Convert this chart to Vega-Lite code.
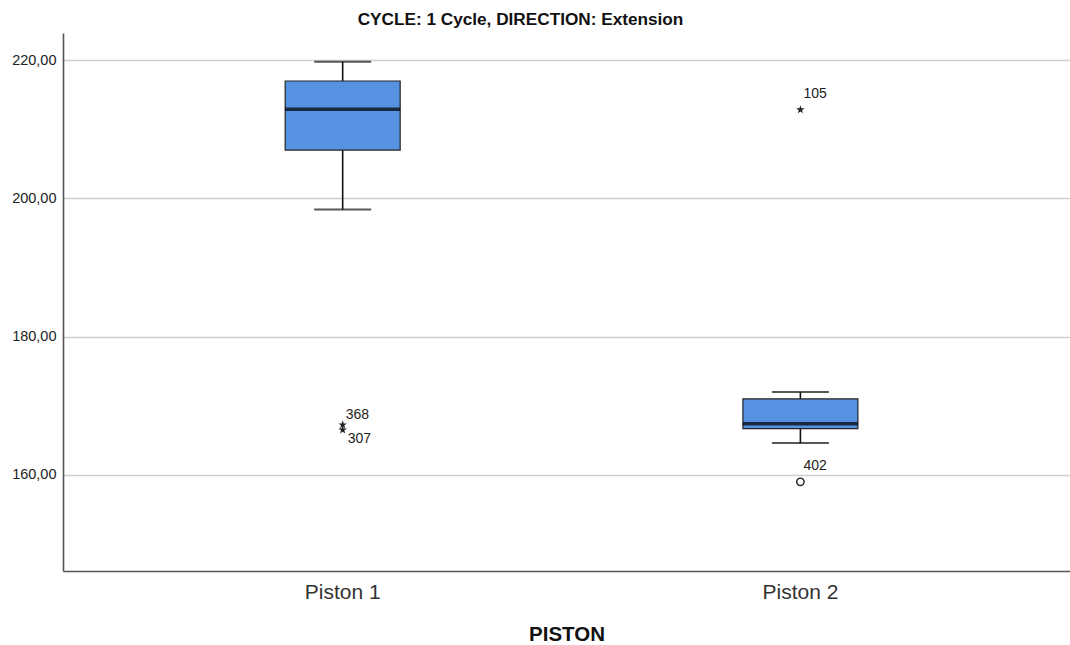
{
  "$schema": "https://vega.github.io/schema/vega-lite/v6.json",
  "autosize": {"type": "none"},
  "width": 1007,
  "height": 538,
  "padding": {"left": 63, "top": 33, "right": 0, "bottom": 74},
  "background": "white",
  "title": {
    "text": "CYCLE: 1 Cycle, DIRECTION: Extension",
    "font": "Liberation Sans",
    "fontSize": 17.2,
    "fontWeight": "bold",
    "color": "#111111",
    "anchor": "middle",
    "frame": "group",
    "dx": -46,
    "offset": 4.5
  },
  "config": {
    "view": {"stroke": null},
    "font": "Liberation Sans"
  },
  "datasets": {
    "summary": [
      {"piston": "Piston 1", "lower": 198.4, "q1": 207.0, "median": 212.9, "q3": 217.0, "upper": 219.8},
      {"piston": "Piston 2", "lower": 164.6, "q1": 166.7, "median": 167.4, "q3": 171.0, "upper": 172.0}
    ],
    "outliers": [
      {"piston": "Piston 1", "case": "368", "value": 167.25, "kind": "extreme"},
      {"piston": "Piston 1", "case": "307", "value": 166.5, "kind": "extreme"},
      {"piston": "Piston 2", "case": "105", "value": 212.85, "kind": "extreme"},
      {"piston": "Piston 2", "case": "402", "value": 159.0, "kind": "outlier"}
    ]
  },
  "encoding": {
    "x": {
      "field": "piston",
      "type": "nominal",
      "scale": {"domain": ["Piston 1", "Piston 2"], "paddingInner": 0, "paddingOuter": 0.1, "align": 0.555},
      "axis": {
        "title": "PISTON",
        "titleFont": "Liberation Sans",
        "titleFontSize": 20.5,
        "titleFontWeight": "bold",
        "titleColor": "#111111",
        "titlePadding": 22,
        "labelFont": "Liberation Sans",
        "labelFontSize": 21,
        "labelColor": "#333333",
        "labelAngle": 0,
        "labelPadding": 10,
        "ticks": false,
        "domainColor": "#555555",
        "domainWidth": 1.6,
        "grid": false
      }
    }
  },
  "layer": [
    {
      "data": {"name": "summary"},
      "mark": {"type": "rule", "color": "#111111", "strokeWidth": 1.6},
      "encoding": {
        "y": {
          "field": "lower",
          "type": "quantitative",
          "scale": {"domain": [146.09, 223.95], "nice": false, "zero": false},
          "axis": {
            "title": null,
            "values": [160, 180, 200, 220],
            "labelExpr": "replace(format(datum.value, '.2f'), '.', ',')",
            "labelFont": "Liberation Sans",
            "labelFontSize": 14.5,
            "labelColor": "#222222",
            "labelPadding": 7,
            "ticks": false,
            "domainColor": "#555555",
            "domainWidth": 1.6,
            "grid": true,
            "gridColor": "#cfcfcf",
            "gridWidth": 1.5
          }
        },
        "y2": {"field": "upper"}
      }
    },
    {
      "data": {"name": "summary"},
      "mark": {"type": "tick", "color": "#111111", "size": 57, "thickness": 2},
      "encoding": {"y": {"field": "lower", "type": "quantitative"}}
    },
    {
      "data": {"name": "summary"},
      "mark": {"type": "tick", "color": "#111111", "size": 57, "thickness": 2},
      "encoding": {"y": {"field": "upper", "type": "quantitative"}}
    },
    {
      "data": {"name": "summary"},
      "mark": {"type": "bar", "width": 115, "fill": "#5592e2", "stroke": "#222222", "strokeWidth": 1.2},
      "encoding": {
        "y": {"field": "q1", "type": "quantitative"},
        "y2": {"field": "q3"}
      }
    },
    {
      "data": {"name": "summary"},
      "mark": {"type": "tick", "color": "#000000", "size": 115, "thickness": 3.5},
      "encoding": {"y": {"field": "median", "type": "quantitative"}}
    },
    {
      "data": {"name": "outliers"},
      "transform": [{"filter": "datum.kind == 'extreme'"}],
      "mark": {
        "type": "point",
        "shape": "M0,-1L0.2245,-0.309L0.951,-0.309L0.363,0.118L0.588,0.809L0,0.382L-0.588,0.809L-0.363,0.118L-0.951,-0.309L-0.2245,-0.309Z",
        "filled": true,
        "color": "#222222",
        "size": 80,
        "opacity": 1
      },
      "encoding": {"y": {"field": "value", "type": "quantitative"}}
    },
    {
      "data": {"name": "outliers"},
      "transform": [{"filter": "datum.kind == 'outlier'"}],
      "mark": {"type": "point", "shape": "circle", "filled": false, "color": "#222222", "strokeWidth": 1.4, "size": 55, "opacity": 1},
      "encoding": {"y": {"field": "value", "type": "quantitative"}}
    },
    {
      "data": {"name": "outliers"},
      "transform": [{"filter": "datum.case == '105' || datum.case == '402'"}],
      "mark": {"type": "text", "align": "left", "baseline": "middle", "dx": 3, "dy": -16, "fontSize": 14, "font": "Liberation Sans", "color": "#222222"},
      "encoding": {"y": {"field": "value", "type": "quantitative"}, "text": {"field": "case"}}
    },
    {
      "data": {"name": "outliers"},
      "transform": [{"filter": "datum.case == '368'"}],
      "mark": {"type": "text", "align": "left", "baseline": "middle", "dx": 3, "dy": -10, "fontSize": 14, "font": "Liberation Sans", "color": "#222222"},
      "encoding": {"y": {"field": "value", "type": "quantitative"}, "text": {"field": "case"}}
    },
    {
      "data": {"name": "outliers"},
      "transform": [{"filter": "datum.case == '307'"}],
      "mark": {"type": "text", "align": "left", "baseline": "middle", "dx": 5, "dy": 9, "fontSize": 14, "font": "Liberation Sans", "color": "#222222"},
      "encoding": {"y": {"field": "value", "type": "quantitative"}, "text": {"field": "case"}}
    }
  ]
}
